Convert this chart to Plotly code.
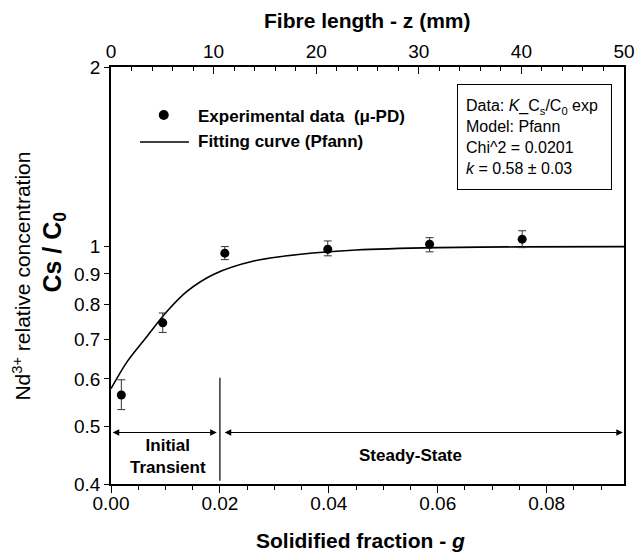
import math
import plotly.graph_objects as go

# ---- data ----
g_exp = [0.0019, 0.0095, 0.0209, 0.0398, 0.0585, 0.0755]
cs_exp = [0.564, 0.745, 0.975, 0.990, 1.009, 1.029]
err_plus = [0.034, 0.029, 0.025, 0.032, 0.026, 0.034]
err_minus = [0.031, 0.027, 0.024, 0.025, 0.029, 0.033]

g_fit = [0.0, 0.003, 0.0066, 0.0103, 0.014, 0.0189, 0.0262, 0.0348, 0.045, 0.060, 0.075, 0.0942]
cs_fit = [0.578, 0.642, 0.707, 0.779, 0.842, 0.899, 0.946, 0.971, 0.987, 0.996, 0.999, 1.0]

y_tickvals = [0.4, 0.5, 0.6, 0.7, 0.8, 0.9, 1, 2]
y_ticktext = ["0.4", "0.5", "0.6", "0.7", "0.8", "0.9", "1", "2"]
x_tickvals = [0.00, 0.02, 0.04, 0.06, 0.08]
x_ticktext = ["0.00", "0.02", "0.04", "0.06", "0.08"]
z_tickvals = [0, 10, 20, 30, 40, 50]

g_boundary = 0.02
g_max = 0.0942
y_arrow = 0.488
y_vline = [0.405, 0.603]

# ---- layout geometry ----
W, H = 636, 554
L, R, T, B = 110.5, 624, 67, 484
FONT = "Liberation Sans, Arial, sans-serif"


def px(x):
    return (x - L) / (R - L)


def py(y):
    return (B - y) / (B - T)


fig = go.Figure()

fig.add_trace(go.Scatter(
    x=g_fit, y=cs_fit, mode="lines",
    line=dict(color="black", width=1.6, shape="spline", smoothing=0.8),
    showlegend=False, hoverinfo="skip"))

fig.add_trace(go.Scatter(
    x=g_exp, y=cs_exp, mode="markers",
    marker=dict(color="black", size=9),
    error_y=dict(type="data", symmetric=False, array=err_plus, arrayminus=err_minus,
                 color="#333333", thickness=1, width=4),
    showlegend=False, hoverinfo="skip"))

# invisible trace to hold the top axis
fig.add_trace(go.Scatter(x=[0, 50], y=[1, 1], xaxis="x2", mode="markers",
                         marker=dict(opacity=0), showlegend=False, hoverinfo="skip"))

axis_common = dict(showline=True, linecolor="black", linewidth=1.5, showgrid=False,
                   zeroline=False, tickcolor="black", tickwidth=1.3, automargin=False,
                   tickfont=dict(family=FONT, size=19, color="black"))

fig.update_layout(
    width=W, height=H,
    margin=dict(l=L, r=W - R, t=T, b=H - B, pad=0, autoexpand=False),
    paper_bgcolor="white", plot_bgcolor="white",
    showlegend=False,
    xaxis=dict(range=[0, g_max], tickvals=x_tickvals, ticktext=x_ticktext,
               ticks="outside", ticklen=7, ticklabelstandoff=-6,
               minor=dict(dtick=0.005, tick0=0, ticks="outside", ticklen=4,
                          tickcolor="black", tickwidth=1.3),
               mirror=False, **axis_common),
    xaxis2=dict(range=[0, 50], overlaying="x", side="top", anchor="y",
                tickvals=z_tickvals, ticks="inside", ticklen=7,
                minor=dict(dtick=2, tick0=0, ticks="inside", ticklen=4,
                           tickcolor="black", tickwidth=1.3),
                **axis_common),
    yaxis=dict(type="log", range=[math.log10(0.4), math.log10(2)],
               tickvals=y_tickvals, ticktext=y_ticktext, ticks="outside", ticklen=5,
               mirror=True, **axis_common),
)

# boundary vertical line
fig.add_shape(type="line", xref="x", yref="y", x0=g_boundary, x1=g_boundary,
              y0=y_vline[0], y1=y_vline[1], line=dict(color="black", width=1.2))

# arrows
ya = math.log10(y_arrow)
for x_tip, x_tail in [(0.0003, g_boundary - 0.0003), (g_max - 0.0002, g_boundary + 0.0006)]:
    fig.add_annotation(x=x_tip, y=ya, ax=x_tail, ay=ya, xref="x", yref="y",
                       axref="x", ayref="y", text="", showarrow=True,
                       arrowhead=2, arrowsize=1.1, arrowwidth=1.2,
                       arrowside="end+start", arrowcolor="black")

region_font = dict(family=FONT, size=17, color="black")
fig.add_annotation(x=0.0105, y=math.log10(0.445), xref="x", yref="y",
                   xanchor="center", yanchor="middle",
                   text="<b>Initial<br>Transient</b>", showarrow=False,
                   font=region_font, align="center")
fig.add_annotation(x=0.055, y=math.log10(0.447), xref="x", yref="y",
                   xanchor="center", yanchor="middle",
                   text="<b>Steady-State</b>", showarrow=False, font=region_font)

# legend (drawn manually)
fig.add_shape(type="circle", xref="paper", yref="paper",
              x0=px(158.3), x1=px(168.3), y0=py(120), y1=py(110),
              fillcolor="black", line=dict(color="black", width=0))
fig.add_shape(type="line", xref="paper", yref="paper",
              x0=px(139.5), x1=px(188.5), y0=py(142), y1=py(142),
              line=dict(color="black", width=1.5))
fig.add_annotation(x=px(196), y=py(116), xref="paper", yref="paper",
                   xanchor="left", yanchor="middle", showarrow=False,
                   text="<b>Experimental data  (μ-PD)</b>", font=region_font)
fig.add_annotation(x=px(196), y=py(141), xref="paper", yref="paper",
                   xanchor="left", yanchor="middle", showarrow=False,
                   text="<b>Fitting curve (Pfann)</b>", font=region_font)

# fit info box
fig.add_annotation(x=px(457.3), y=py(84), xref="paper", yref="paper",
                   xanchor="left", yanchor="top", showarrow=False, align="left",
                   width=137, height=88,
                   text=("Data: <i>K</i>_C<sub>s</sub>/C<sub>0</sub> exp<br>"
                         "Model: Pfann<br>Chi^2 = 0.0201<br>"
                         "<i>k</i> = 0.58 ± 0.03"),
                   font=dict(family=FONT, size=16, color="black"),
                   bordercolor="black", borderwidth=1, borderpad=8, bgcolor="white")

# axis titles
title_font = dict(family=FONT, size=21, color="black")
fig.add_annotation(x=px(360), y=py(540), xref="paper", yref="paper",
                   xanchor="center", yanchor="middle",
                   text="<b>Solidified fraction - <i>g</i></b>", showarrow=False,
                   font=title_font)
fig.add_annotation(x=px(367), y=py(20), xref="paper", yref="paper",
                   xanchor="center", yanchor="middle",
                   text="<b>Fibre length - z (mm)</b>", showarrow=False,
                   font=title_font)
fig.add_annotation(x=px(21), y=py(276), xref="paper", yref="paper", textangle=-90,
                   xanchor="center", yanchor="middle",
                   text="Nd<sup>3+</sup> relative concentration", showarrow=False,
                   font=dict(family=FONT, size=21, color="black"))
fig.add_annotation(x=px(53), y=py(252), xref="paper", yref="paper", textangle=-90,
                   xanchor="center", yanchor="middle",
                   text="<b>Cs / C<sub>0</sub></b>", showarrow=False,
                   font=dict(family=FONT, size=25, color="black"))

fig.write_html("out.html")
